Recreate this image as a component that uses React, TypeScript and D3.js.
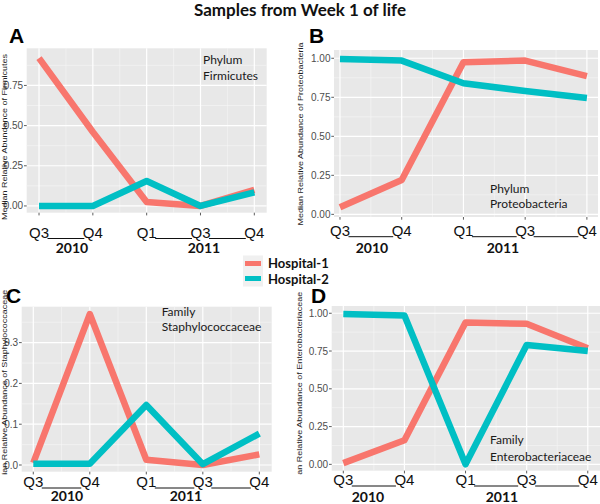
import React from "react";
import * as d3 from "d3";

// ---------- data ----------
const periods = ["Q3", "Q4", "Q1", "Q3", "Q4"];
const yearLabels = ["2010", "2011"];
const seriesNames = ["Hospital-1", "Hospital-2"];
const seriesColors = ["#F8766D", "#00BFC4"];

const firmicutesH1 = [0.92, 0.46, 0.025, 0.0, 0.1];
const firmicutesH2 = [0.0, 0.0, 0.155, 0.0, 0.085];
const proteoH1 = [0.045, 0.22, 0.975, 0.985, 0.885];
const proteoH2 = [0.995, 0.985, 0.84, 0.79, 0.745];
const staphH1 = [0.005, 0.37, 0.013, 0.0, 0.026];
const staphH2 = [0.003, 0.003, 0.147, 0.002, 0.077];
const enteroH1 = [0.008, 0.16, 0.938, 0.93, 0.768];
const enteroH2 = [0.995, 0.985, 0.0, 0.79, 0.75];

const ticksQuarter = [0, 0.25, 0.5, 0.75, 1];
const ticksTenth = [0, 0.1, 0.2, 0.3];

// ---------- layout ----------
const panels = [
  {
    key: "A", l: 26.7, r: 266.7, t: 48.3, b: 212.7,
    xDom: [-0.229, 4.23], yDom: [-0.042, 0.981], ticks: ticksQuarter, fmt: ".2f",
    letter: [9, 43], title: "Median Relative Abundance of Firmicutes", titleX: 4, titleY: 137,
    note: ["Phylum", "Firmicutes"], noteX: 203, noteY: [64, 80],
    qBase: 237.5, yearBase: 253, yearX: [72, 204], clip: false,
    h1: firmicutesH1, h2: firmicutesH2,
  },
  {
    key: "B", l: 334, r: 598, t: 50, b: 217,
    xDom: [-0.097, 4.18], yDom: [-0.017, 1.053], ticks: ticksQuarter, fmt: ".2f",
    letter: [309, 43], title: "Median Relative Abundance of Proteobacteria", titleX: 300, titleY: 134,
    note: ["Phylum", "Proteobacteria"], noteX: 490, noteY: [193, 208],
    qBase: 235.7, yearBase: 252.7, yearX: [372, 503], clip: false,
    h1: proteoH1, h2: proteoH2,
  },
  {
    key: "C", l: 21.7, r: 271.7, t: 306.7, b: 471.7,
    xDom: [-0.205, 4.219], yDom: [-0.0164, 0.388], ticks: ticksTenth, fmt: ".1f",
    letter: [6, 303], title: "Median Relative Abundance of Staphylococcaceae", titleX: 4, titleY: 391,
    note: ["Family", "Staphylococcaceae"], noteX: 161.7, noteY: [316, 331],
    qBase: 487, yearBase: 501, yearX: [67, 186], clip: true,
    h1: staphH1, h2: staphH2,
  },
  {
    key: "D", l: 331.7, r: 600, t: 306, b: 470.7,
    xDom: [-0.19, 4.2], yDom: [-0.042, 1.048], ticks: ticksQuarter, fmt: ".2f",
    letter: [311, 303], title: "Median Relative Abundance of Enterobacteriaceae", titleX: 299, titleY: 393,
    note: ["Family", "Enterobacteriaceae"], noteX: 490, noteY: [444, 461],
    qBase: 485, yearBase: 501.5, yearX: [368, 502], clip: true,
    h1: enteroH1, h2: enteroH2,
  },
];

const NARROW = "'Liberation Sans Narrow', 'Arial Narrow', sans-serif";
const SANS = "'Liberation Sans', Arial, sans-serif";
const CAL = "Lato, 'Open Sans', sans-serif";

function Panel({ p }: { p: any }) {
  const x = d3.scaleLinear().domain(p.xDom).range([p.l, p.r]);
  const y = d3.scaleLinear().domain(p.yDom).range([p.b, p.t]);
  const idx = periods.map((_, i) => i);
  const ticks = p.ticks.filter((v: number) => v >= p.yDom[0] && v <= p.yDom[1]);
  const step = p.ticks[1] - p.ticks[0];
  const yMinor = p.ticks
    .map((t: number) => t + step / 2)
    .filter((v: number) => v > p.yDom[0] && v < p.yDom[1]);
  const xMinor = idx.slice(1).map((i) => i - 0.5);
  const line = d3
    .line<number>()
    .x((_, i) => x(i))
    .y((d) => y(d));
  const fmt = d3.format(p.fmt);
  const pairs = [[0, 1], [2, 3], [3, 4]];
  const hw = 8.5;

  return (
    <g>
      <rect x={p.l} y={p.t} width={p.r - p.l} height={p.b - p.t} fill="#E8E8E8" />
      {yMinor.map((v: number, i: number) => (
        <line key={"ym" + i} x1={p.l} x2={p.r} y1={y(v)} y2={y(v)} stroke="#F7F7F7" strokeWidth={0.6} />
      ))}
      {xMinor.map((v, i) => (
        <line key={"xm" + i} x1={x(v)} x2={x(v)} y1={p.t} y2={p.b} stroke="#F7F7F7" strokeWidth={0.6} />
      ))}
      {ticks.map((v: number, i: number) => (
        <line key={"yM" + i} x1={p.l} x2={p.r} y1={y(v)} y2={y(v)} stroke="#FFFFFF" strokeWidth={1.2} />
      ))}
      {idx.map((i) => (
        <line key={"xM" + i} x1={x(i)} x2={x(i)} y1={p.t} y2={p.b} stroke="#FFFFFF" strokeWidth={1.2} />
      ))}
      {[p.h1, p.h2].map((s: number[], k: number) => (
        <path key={"s" + k} d={line(s) || ""} fill="none" stroke={seriesColors[k]} strokeWidth={6.5} strokeLinejoin="round" />
      ))}
      {/* y axis */}
      {ticks.map((v: number, i: number) => (
        <g key={"yt" + i}>
          <line x1={p.l - 2.7} x2={p.l} y1={y(v)} y2={y(v)} stroke="#333" strokeWidth={0.8} />
          <text x={p.l - 3.5} y={y(v)} dy="0.35em" textAnchor="end" fontFamily={NARROW} fontSize={10} fill="#4D4D4D">
            {fmt(v)}
          </text>
        </g>
      ))}
      {/* x axis */}
      {idx.map((i) => (
        <g key={"xt" + i}>
          <line x1={x(i)} x2={x(i)} y1={p.b} y2={p.b + 2.7} stroke="#333" strokeWidth={0.8} />
          <text x={x(i)} y={p.qBase} textAnchor="middle" fontFamily={NARROW} fontSize={15} fill="#111">
            {periods[i]}
          </text>
        </g>
      ))}
      {pairs.map(([a, b], i) => (
        <line key={"u" + i} x1={x(a) + hw} x2={x(b) - hw} y1={p.qBase + 1} y2={p.qBase + 1} stroke="#111" strokeWidth={1} />
      ))}
      {yearLabels.map((yl, i) => (
        <text key={"yr" + i} x={p.yearX[i]} y={p.yearBase} textAnchor="middle" fontFamily={CAL} fontWeight={700} fontSize={14} fill="#111">
          {yl}
        </text>
      ))}
      {/* y title */}
      <g clipPath={p.clip ? `url(#clip${p.key})` : undefined}>
        <text
          transform={`translate(${p.titleX},${p.titleY}) rotate(-90) scale(1,0.85)`}
          dy="0.35em"
          textAnchor="middle"
          fontFamily={SANS}
          fontSize={9}
          fill="#222"
        >
          {p.title}
        </text>
      </g>
      {/* letter */}
      <text x={p.letter[0]} y={p.letter[1]} fontFamily={NARROW} fontWeight={700} fontSize={21} fill="#000">
        {p.key}
      </text>
      {/* note */}
      {p.note.map((n: string, i: number) => (
        <text key={"n" + i} x={p.noteX} y={p.noteY[i]} fontFamily={CAL} fontSize={12} fill="#1a1a1a">
          {n}
        </text>
      ))}
    </g>
  );
}

export default function App() {
  return (
    <svg width={600} height={504} style={{ position: "absolute", left: 0, top: 0, background: "#fff" }}>
      <defs>
        <clipPath id="clipC">
          <rect x={0} y={280} width={300} height={195} />
        </clipPath>
        <clipPath id="clipD">
          <rect x={290} y={280} width={310} height={195} />
        </clipPath>
      </defs>
      <rect x={0} y={0} width={600} height={504} fill="#fff" />
      <text x={300} y={16} textAnchor="middle" fontFamily={CAL} fontWeight={700} fontSize={17} fill="#111">
        Samples from Week 1 of life
      </text>
      {panels.map((p) => (
        <Panel key={p.key} p={p} />
      ))}
      {/* legend */}
      {seriesNames.map((n, i) => (
        <g key={"lg" + i}>
          <rect x={243} y={255.5 + i * 15.5} width={20} height={15.5} fill="#F0F0F0" />
          <line x1={245} x2={261} y1={263.5 + i * 15} y2={263.5 + i * 15} stroke={seriesColors[i]} strokeWidth={5} />
          <text x={268} y={268 + i * 15.5} fontFamily={CAL} fontWeight={700} fontSize={13} fill="#111">
            {n}
          </text>
        </g>
      ))}
    </svg>
  );
}
